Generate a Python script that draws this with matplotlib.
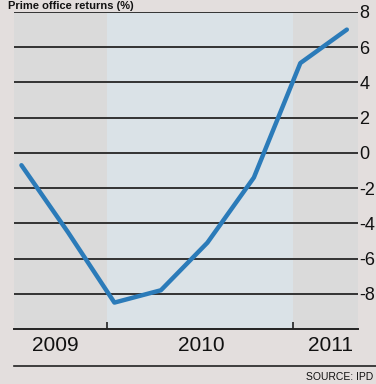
import matplotlib.pyplot as plt
from matplotlib.lines import Line2D

plt.rcParams['font.family'] = ['Liberation Sans', 'DejaVu Sans']

# quarterly prime office returns (%)
quarters = [2009.54, 2009.79, 2010.04, 2010.29, 2010.54, 2010.79, 2011.04, 2011.29]
returns = [-0.7, -4.5, -8.5, -7.8, -5.1, -1.4, 5.1, 7.0]
year_labels = ['2009', '2010', '2011']
year_label_pos = [2009.72, 2010.51, 2011.2]
y_ticks = [8, 6, 4, 2, 0, -2, -4, -6, -8]

W, H = 376, 384
fig = plt.figure(figsize=(W / 100, H / 100), dpi=100)
fig.patch.set_facecolor('#e3dedd')
ax = fig.add_axes([14 / W, 1 - 329 / H, 344 / W, 317 / H])
ax.set_facecolor('#dadada')
ax.set_xlim(2009.5, 2011.35)
ax.set_ylim(-10, 8)

# lighter band for 2010
ax.axvspan(2010.0, 2011.0, color='#dae2e7', zorder=0, lw=0)

for v in y_ticks:
    ax.axhline(v, color='#333333', lw=1.4, zorder=1)

ax.plot(quarters, returns, color='#2b7bb9', lw=3.2, solid_capstyle='round',
        solid_joinstyle='round', zorder=3, clip_on=False)

for s in ['top', 'left', 'right']:
    ax.spines[s].set_visible(False)
ax.spines['bottom'].set_color('#222222')
ax.spines['bottom'].set_linewidth(1.4)

ax.set_yticks(y_ticks)
ax.set_yticklabels([str(v) for v in y_ticks], fontsize=13, color='#111111')
ax.yaxis.tick_right()
ax.tick_params(axis='y', length=0, pad=1)

ax.set_xticks([2010, 2011])
ax.set_xticklabels([])
ax.tick_params(axis='x', which='major', direction='in', length=5, width=1.2,
               color='#222222')
ax.set_xticks(year_label_pos, minor=True)
ax.set_xticklabels(year_labels, minor=True, fontsize=15, color='#111111')
ax.tick_params(axis='x', which='minor', length=0, pad=5)

fig.text(8 / W, 1 - 1 / H, 'Prime office returns (%)', fontsize=8,
         fontweight='bold', va='top', ha='left', color='#111111')
fig.add_artist(Line2D([14 / W, 1.0], [1 - 366 / H, 1 - 366 / H],
                      color='#222222', lw=1.2))
fig.text(1 - 3 / W, 1 - 377 / H, 'SOURCE: IPD', fontsize=7.5, va='center',
         ha='right', color='#111111')

fig.savefig('out.png', dpi=100, facecolor=fig.get_facecolor())
